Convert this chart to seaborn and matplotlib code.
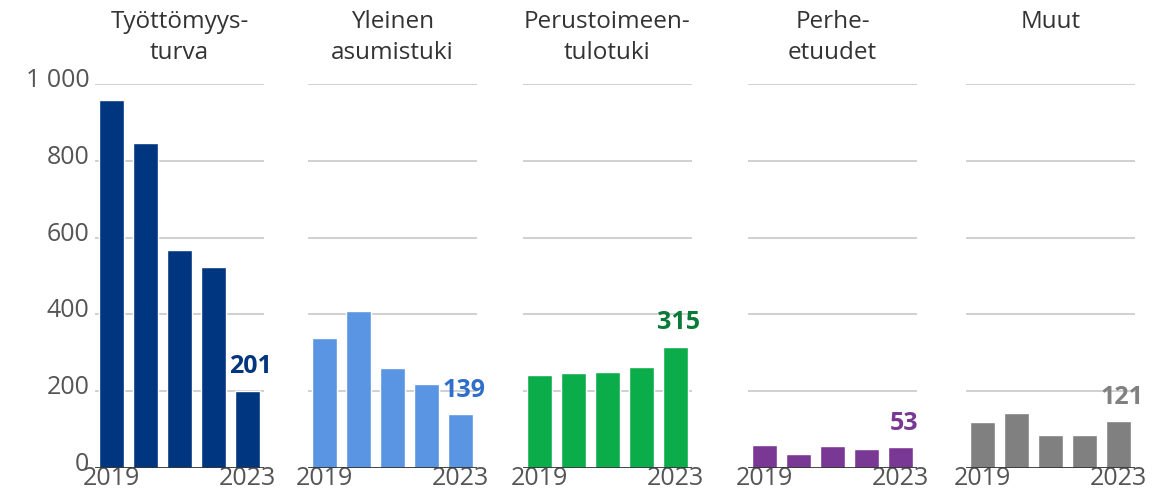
import matplotlib
matplotlib.use("Agg")
import matplotlib.pyplot as plt
from matplotlib.transforms import ScaledTranslation
import seaborn as sns
import pandas as pd

years = [2019, 2020, 2021, 2022, 2023]
titles = ["Työttömyys-\nturva", "Yleinen\nasumistuki", "Perustoimeen-\ntulotuki",
          "Perhe-\netuudet", "Muut"]
tyottomyysturva = [959, 847, 567, 524, 201]
asumistuki = [338, 408, 260, 218, 139]
toimeentulotuki = [241, 246, 249, 262, 315]
perhe_etuudet = [58, 35, 56, 48, 53]
muut = [119, 142, 85, 85, 121]
bar_colors = ["#00357f", "#5a95e3", "#0aad4a", "#7a3895", "#808080"]
label_colors = ["#00357f", "#2f6fca", "#0a7a37", "#7a3895", "#808080"]
y_ticks = [0, 200, 400, 600, 800, 1000]
y_tick_labels = ["0", "200", "400", "600", "800", "1 000"]

series = [tyottomyysturva, asumistuki, toimeentulotuki, perhe_etuudet, muut]

sns.set_style("white")
plt.rcParams['font.family'] = ['Open Sans', 'DejaVu Sans']

fig = plt.figure(figsize=(11.72, 4.97), dpi=100)
W, H = 1172, 497
lefts = [95, 308, 523, 748, 966]
panel_w = 169
y0, y1 = 467.7, 84.3

for i, (vals, title) in enumerate(zip(series, titles)):
    ax = fig.add_axes([lefts[i] / W, 1 - y0 / H, panel_w / W, (y0 - y1) / H])
    df = pd.DataFrame({"year": [str(y) for y in years], "value": vals})
    sns.barplot(data=df, x="year", y="value", color=bar_colors[i], width=0.735,
                saturation=1, ax=ax, zorder=3)
    ax.set_ylim(0, 1000)
    ax.set_xlim(-0.485, 4.485)
    ax.set_yticks(y_ticks)
    for t in y_ticks[1:]:
        ax.axhline(t, color="#c8c8c8", lw=1.2, zorder=1)
    ax.axhline(0, color="#333333", lw=2, zorder=4)
    for s in ax.spines.values():
        s.set_visible(False)
    ax.set_xlabel("")
    ax.set_ylabel("")
    ax.set_xticks([0, 4])
    ax.set_xticklabels([str(years[0]), str(years[-1])])
    ax.tick_params(axis="x", length=0, pad=-1, labelsize=18, colors="#555555")
    if i == 0:
        ax.set_yticklabels(y_tick_labels)
        ax.tick_params(axis="y", length=0, pad=4, labelsize=18, colors="#555555")
        for lab in ax.get_yticklabels():
            lab.set_transform(lab.get_transform() + ScaledTranslation(0, 0.065, fig.dpi_scale_trans))
    else:
        ax.set_yticklabels([])
        ax.tick_params(axis="y", length=0)
    ax.patch.set_alpha(0)
    # value label for the last year
    ax.text(4.1, vals[-1] + 30, str(vals[-1]), ha="center", va="bottom",
            fontsize=18, fontweight="bold", color=label_colors[i], zorder=5)
    ax.text(2.0, 1.195, title, transform=ax.get_xaxis_transform(), ha="center",
            va="top", fontsize=17.5, color="#333333", linespacing=1.4)

fig.savefig("out.png", dpi=100)
